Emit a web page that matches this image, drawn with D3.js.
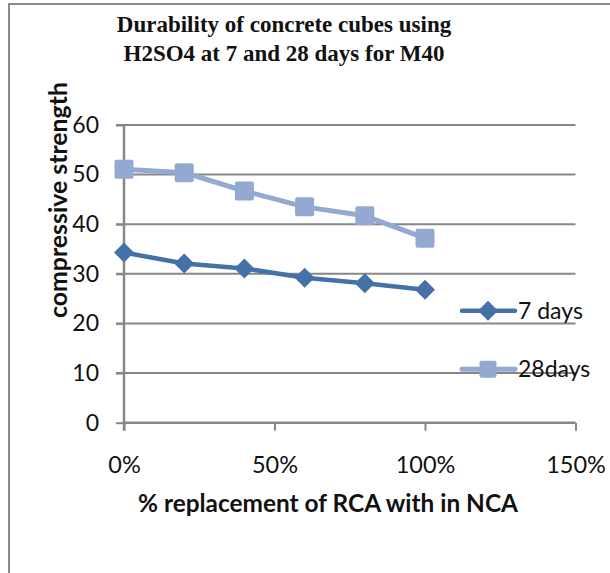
<!DOCTYPE html>
<html><head><meta charset="utf-8">
<script src="https://cdn.jsdelivr.net/npm/d3@7"></script>
<style>body{margin:0;background:#fff}svg{display:block}</style>
</head><body>
<script>
const replacement = [0, 0.2, 0.4, 0.6, 0.8, 1.0];
const days7 = [34.3, 32.1, 31.1, 29.2, 28.1, 26.8];
const days28 = [51.1, 50.4, 46.7, 43.5, 41.7, 37.2];
const seriesNames = ["7 days", "28days"];
const xTicks = [0, 0.5, 1.0, 1.5];
const yTicks = [0, 10, 20, 30, 40, 50, 60];
const titleLines = ["Durability of concrete cubes using", "H2SO4 at 7 and 28 days for M40"];

const W = 610, H = 573;
const svg = d3.select("body").append("svg").attr("width", W).attr("height", H);
svg.append("rect").attr("x", 9).attr("y", 4).attr("width", 700).attr("height", 700)
  .attr("fill", "#fff").attr("stroke", "#8a8a8a").attr("stroke-width", 2);

const x = d3.scaleLinear().domain([0, 1.5]).range([124, 575.5]);
const y = d3.scaleLinear().domain([0, 60]).range([422.7, 125]);
const gridC = "#878787";
const sans = "Lato, 'Open Sans', sans-serif";

// gridlines
svg.append("g").selectAll("line").data(yTicks.filter(d => d > 0)).join("line")
  .attr("x1", 116).attr("x2", x(1.5)).attr("y1", d => y(d)).attr("y2", d => y(d))
  .attr("stroke", gridC).attr("stroke-width", 2);

// y axis
const yAxis = svg.append("g").attr("transform", `translate(${x(0)},0)`)
  .call(d3.axisLeft(y).tickValues(yTicks).tickSize(8).tickPadding(17).tickFormat(d3.format("d")));
yAxis.select(".domain").attr("d", `M0,${y(60)}V${y(0)+8}`).attr("stroke", gridC).attr("stroke-width", 2.5);
yAxis.selectAll(".tick line").attr("stroke", gridC).attr("stroke-width", 2);
yAxis.selectAll(".tick text").attr("font-family", sans).attr("font-size", 23).attr("fill", "#111");

// x axis
const xAxis = svg.append("g").attr("transform", `translate(0,${y(0)})`)
  .call(d3.axisBottom(x).tickValues(xTicks).tickSize(8).tickPadding(26).tickFormat(d3.format(".0%")));
xAxis.select(".domain").attr("d", `M${x(0)},0H${x(1.5)}`).attr("stroke", gridC).attr("stroke-width", 2.5);
xAxis.selectAll(".tick line").attr("stroke", gridC).attr("stroke-width", 2);
xAxis.selectAll(".tick text").attr("font-family", sans).attr("font-size", 23.5).attr("fill", "#111");

const col7 = "#4471a8", col28 = "#93a9d1";
const line = d3.line().x((d, i) => x(replacement[i])).y(d => y(d));

// 28 days
svg.append("path").datum(days28).attr("d", line).attr("fill", "none")
  .attr("stroke", col28).attr("stroke-width", 5).attr("stroke-linejoin", "round");
svg.append("g").selectAll("rect").data(days28).join("rect")
  .attr("x", (d, i) => x(replacement[i]) - 9.5).attr("y", d => y(d) - 9.5)
  .attr("width", 19).attr("height", 19).attr("rx", 2).attr("fill", col28);

// 7 days
svg.append("path").datum(days7).attr("d", line).attr("fill", "none")
  .attr("stroke", col7).attr("stroke-width", 4.5).attr("stroke-linejoin", "round");
const diamond = r => `M0,${-r}L${r},0L0,${r}L${-r},0Z`;
svg.append("g").selectAll("path").data(days7).join("path")
  .attr("transform", (d, i) => `translate(${x(replacement[i])},${y(d)})`)
  .attr("d", diamond(10)).attr("fill", col7);

// legend
const leg = [{name: seriesNames[0], c: col7, cy: 310.7, m: "d"}, {name: seriesNames[1], c: col28, cy: 369.3, m: "s"}];
leg.forEach(l => {
  svg.append("line").attr("x1", 462).attr("x2", 515).attr("y1", l.cy).attr("y2", l.cy)
    .attr("stroke", l.c).attr("stroke-width", l.m === "d" ? 4.5 : 5).attr("stroke-linecap", "round");
  if (l.m === "d") svg.append("path").attr("transform", `translate(488,${l.cy})`).attr("d", diamond(10)).attr("fill", l.c);
  else svg.append("rect").attr("x", 488 - 8.5).attr("y", l.cy - 8.5).attr("width", 17).attr("height", 17).attr("rx", 2).attr("fill", l.c);
  svg.append("text").attr("x", 518).attr("y", l.cy + 8).attr("font-family", sans).attr("font-size", 23)
    .attr("fill", "#111").text(l.name);
});

// title
svg.append("g").selectAll("text").data(titleLines).join("text")
  .attr("x", 284).attr("y", (d, i) => 32 + i * 29).attr("text-anchor", "middle")
  .attr("font-family", "'Liberation Serif', 'Times New Roman', serif").attr("font-weight", "bold")
  .attr("font-size", 23).attr("fill", "#111").text(d => d);

// axis titles
svg.append("text").attr("transform", "translate(67,200) rotate(-90)").attr("text-anchor", "middle")
  .attr("font-family", sans).attr("font-weight", "bold").attr("font-size", 24).attr("fill", "#111")
  .attr("textLength", 236).attr("lengthAdjust", "spacingAndGlyphs")
  .text("compressive strength");
svg.append("text").attr("x", 328).attr("y", 512).attr("text-anchor", "middle")
  .attr("font-family", sans).attr("font-weight", "bold").attr("font-size", 24).attr("fill", "#111")
  .attr("textLength", 380).attr("lengthAdjust", "spacingAndGlyphs")
  .text("% replacement of RCA with in NCA");
</script>
</body></html>
